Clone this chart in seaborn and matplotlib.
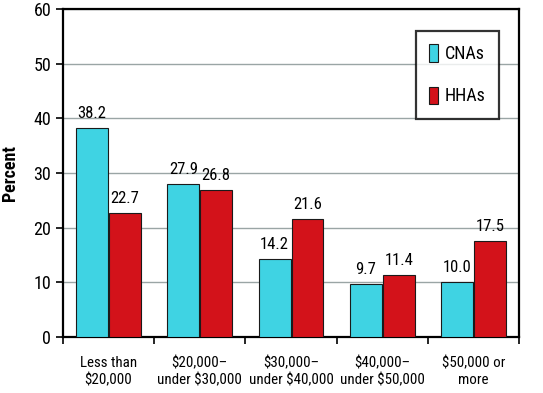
import matplotlib.pyplot as plt
import seaborn as sns
import pandas as pd

categories = ["Less than\n$20,000", "$20,000–\nunder $30,000", "$30,000–\nunder $40,000",
              "$40,000–\nunder $50,000", "$50,000 or\nmore"]
groups = ["CNAs", "HHAs"]
cnas = [38.2, 27.9, 14.2, 9.7, 10.0]
hhas = [22.7, 26.8, 21.6, 11.4, 17.5]

CYAN = "#3FD3E3"
RED = "#D3121A"

sns.set_style("white")
plt.rcParams["font.family"] = ["Roboto Condensed", "Liberation Sans Narrow", "Liberation Sans", "DejaVu Sans"]
plt.rcParams["font.size"] = 11
plt.rcParams["text.color"] = "black"
plt.rcParams["xtick.color"] = "black"
plt.rcParams["ytick.color"] = "black"
plt.rcParams["axes.labelcolor"] = "black"

df = pd.DataFrame({
    "income": categories * 2,
    "group": [groups[0]] * 5 + [groups[1]] * 5,
    "pct": cnas + hhas,
})

fig = plt.figure(figsize=(5.43, 3.93), dpi=100)
ax = fig.add_axes([0.116, 0.1425, 0.84, 0.835])

sns.barplot(data=df, x="income", y="pct", hue="group", palette=[CYAN, RED], saturation=1,
            width=0.72, gap=0.03, ax=ax, edgecolor="#1a1a1a", linewidth=0.8, zorder=3)

for cont in ax.containers:
    ax.bar_label(cont, fmt="%.1f", padding=5, fontsize=12)

ax.set_ylim(0, 60)
ax.set_yticks(range(0, 61, 10))
ax.set_xlim(-0.5, 4.5)
ax.set_xticks([x - 0.5 for x in range(6)], minor=True)
ax.tick_params(axis="x", which="minor", length=5, width=1.2, direction="out", bottom=True)
ax.tick_params(axis="x", which="major", length=0, pad=14, labelsize=10.8)
ax.tick_params(axis="y", length=5, width=1.2, direction="out", left=True, labelsize=13)
ax.grid(axis="y", color="#9aa5a5", lw=1, zorder=0)
for s in ax.spines.values():
    s.set_color("black")
    s.set_linewidth(1.6)

ax.set_xlabel("")
ax.set_ylabel("Percent", fontweight="bold", fontsize=13, labelpad=10)

leg = ax.legend(loc="upper right", bbox_to_anchor=(0.956, 0.933), frameon=True, fancybox=False,
                handlelength=0.5, handleheight=1.1, handletextpad=0.35, labelspacing=1.3,
                borderpad=0.75, borderaxespad=0, fontsize=13, title=None)
leg.get_frame().set_edgecolor("black")
leg.get_frame().set_linewidth(1.6)

fig.savefig("out.png", dpi=100, facecolor="w")
